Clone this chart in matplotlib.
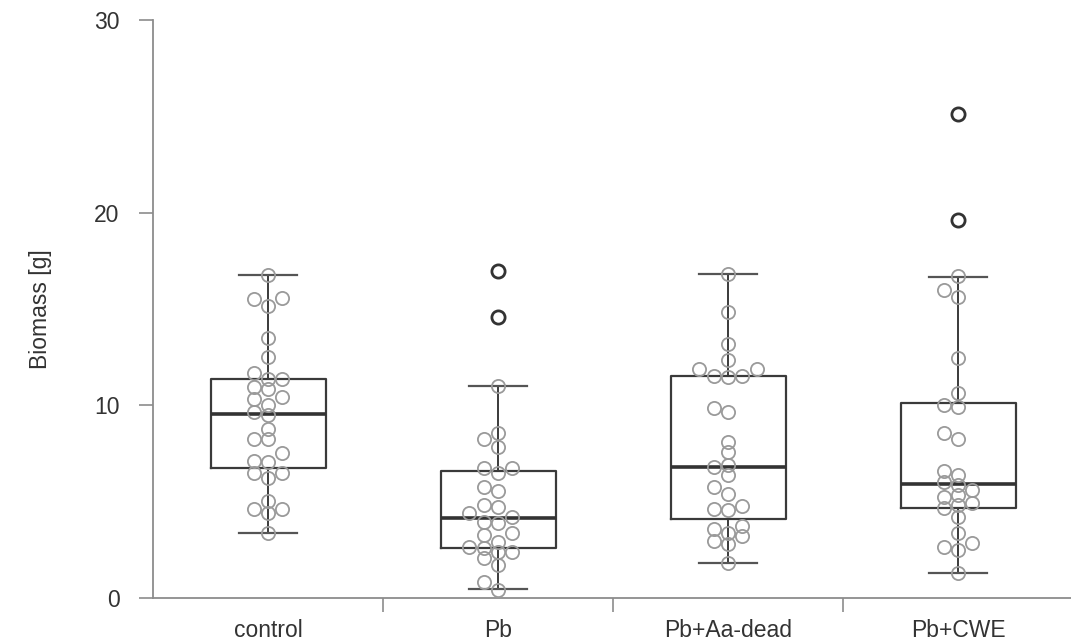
import numpy as np
import matplotlib
matplotlib.use("Agg")
import matplotlib.pyplot as plt
from matplotlib.ticker import FixedLocator

plt.rcParams['font.family'] = ['Liberation Sans', 'DejaVu Sans']

categories = ["control", "Pb", "Pb+Aa-dead", "Pb+CWE"]

control = [16.76, 15.5, 15.58, 15.15, 13.47, 12.49, 11.66, 11.35, 11.35, 10.97,
           10.83, 10.33, 10.45, 10.0, 9.63, 9.5, 8.75, 8.24, 8.24, 7.51, 7.13,
           7.06, 6.5, 6.5, 6.21, 5.05, 4.6, 4.6, 4.4, 3.39]
pb = [16.99, 14.56, 11.0, 8.58, 8.24, 7.85, 6.73, 6.47, 6.73, 5.74, 5.57, 4.74,
      4.83, 4.4, 4.22, 3.96, 3.91, 3.39, 3.27, 2.92, 2.66, 2.58, 2.4, 2.4, 2.06,
      1.71, 0.81, 0.42]
pb_aa_dead = [16.8, 14.83, 13.17, 12.35, 11.88, 11.88, 11.54, 11.49, 11.54, 9.84,
              9.63, 8.11, 7.56, 6.82, 6.9, 6.38, 5.78, 5.4, 4.77, 4.6, 4.57, 3.74,
              3.56, 3.39, 3.22, 2.97, 2.8, 1.83]
pb_cwe = [25.1, 19.62, 16.73, 15.98, 15.64, 12.44, 10.62, 10.02, 9.9, 8.55, 8.24,
          6.61, 6.38, 6.04, 5.86, 5.6, 5.26, 5.35, 4.83, 4.65, 4.91, 4.22, 3.36,
          2.84, 2.63, 2.49, 1.28]

# box statistics
q1 = [6.76, 2.61, 4.08, 4.69]
medians = [9.57, 4.13, 6.82, 5.9]
q3 = [11.35, 6.59, 11.54, 10.1]
whisker_low = [3.39, 0.47, 1.83, 1.28]
whisker_high = [16.76, 11.0, 16.8, 16.66]
outliers = [[], [16.99, 14.56], [], [25.1, 19.62]]

groups = [control, pb, pb_aa_dead, pb_cwe]


def swarm_offsets(values, step, min_gap):
    vals = np.asarray(values, dtype=float)
    order = np.argsort(vals, kind="stable")
    slots = np.zeros(len(vals))
    placed = []
    for i in order:
        v = vals[i]
        for s in [0, -1, 1, -2, 2, -3, 3]:
            if all(not (ps == s and abs(pv - v) < min_gap) for ps, pv in placed):
                slots[i] = s
                placed.append((s, v))
                break
    return slots * step


fig = plt.figure(figsize=(10.71, 6.42), dpi=100)
ax = fig.add_axes([153 / 1071, 44 / 642, 920 / 1071, 578 / 642])

positions = np.arange(len(categories))
stats = []
for i in range(len(categories)):
    stats.append(dict(med=medians[i], q1=q1[i], q3=q3[i], whislo=whisker_low[i],
                      whishi=whisker_high[i], fliers=[]))

ax.bxp(stats, positions=positions, widths=0.5, showfliers=False,
       boxprops=dict(color="#3a3a3a", linewidth=1.6),
       medianprops=dict(color="#333333", linewidth=2.6),
       whiskerprops=dict(color="#3a3a3a", linewidth=1.4),
       capprops=dict(color="#555555", linewidth=1.6),
       capwidths=0.25, zorder=2)

for i, vals in enumerate(groups):
    off = swarm_offsets(vals, 0.062, 0.5)
    ax.plot(positions[i] + off, vals, linestyle="none", marker="o",
            markerfacecolor="none", markeredgecolor="#9a9a9a",
            markersize=9.5, markeredgewidth=1.3, zorder=3)

for i, fl in enumerate(outliers):
    if fl:
        ax.plot(np.full(len(fl), positions[i]), fl, linestyle="none", marker="o",
                markerfacecolor="white", markeredgecolor="#333333",
                markersize=9.5, markeredgewidth=2.0, zorder=4)

ax.set_xlim(-0.5, 3.5)
ax.set_ylim(0, 30)

for s in ["top", "right"]:
    ax.spines[s].set_visible(False)
for s in ["left", "bottom"]:
    ax.spines[s].set_color("#8c8c8c")
    ax.spines[s].set_linewidth(1.3)

ax.set_yticks([0, 10, 20, 30])
ax.tick_params(axis="y", length=10, width=1.2, color="#8c8c8c",
               labelsize=16.5, labelcolor="#333333", pad=14)
ax.set_xticks(positions)
ax.set_xticklabels(categories)
ax.tick_params(axis="x", which="major", length=0, labelsize=16.5,
               labelcolor="#333333", pad=15)
ax.xaxis.set_minor_locator(FixedLocator([0.5, 1.5, 2.5]))
ax.tick_params(axis="x", which="minor", length=10, width=1.2, color="#8c8c8c")

ax.set_ylabel("Biomass [g]", fontsize=16.5, color="#333333", labelpad=30)

fig.savefig("out.png", dpi=100)
